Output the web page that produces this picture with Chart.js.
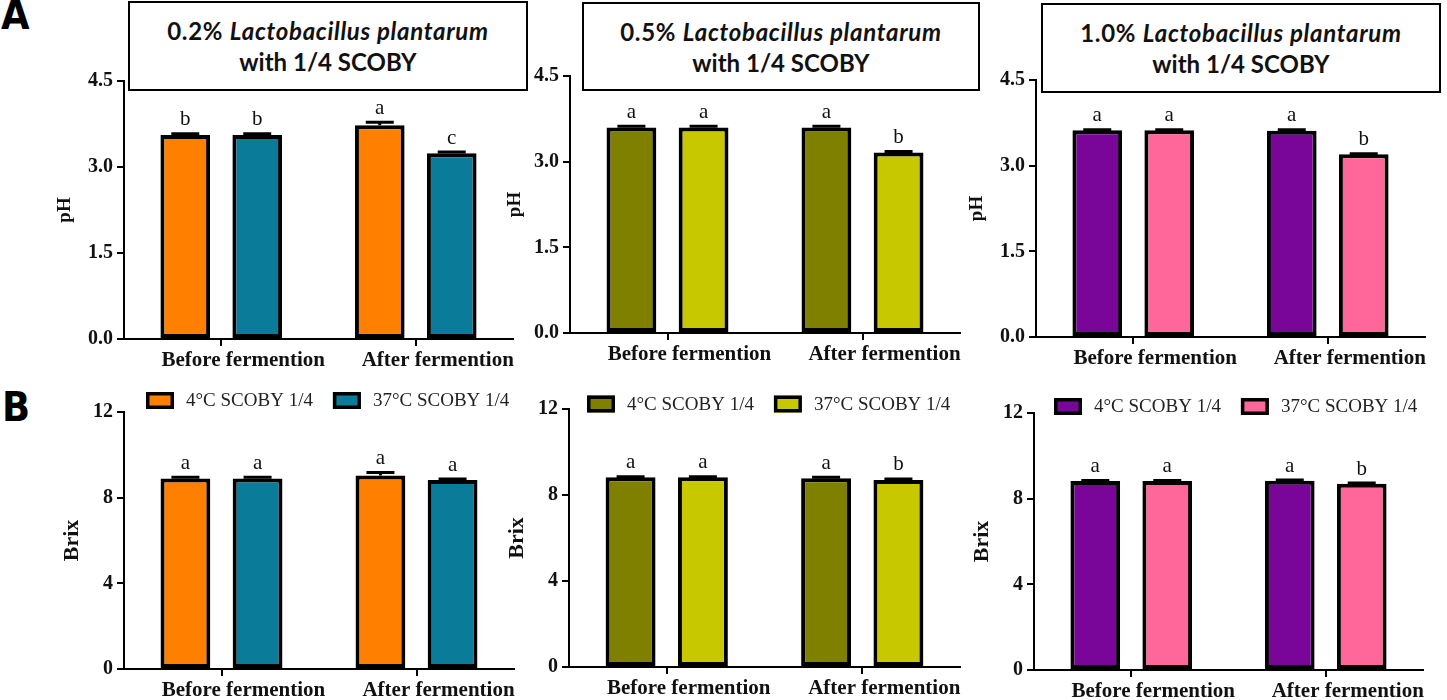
<!DOCTYPE html>
<html>
<head>
<meta charset="utf-8">
<script src="https://cdn.jsdelivr.net/npm/chart.js@4.4.1/dist/chart.umd.min.js"></script>
<style>
  html, body { margin: 0; padding: 0; background: #fff; }
  #page { position: relative; width: 1447px; height: 700px; overflow: hidden; background: #fff; }
  canvas { position: absolute; }
  .tbox { position: absolute; box-sizing: border-box; border: 2px solid #000; background: #fff;
          display: flex; flex-direction: column; justify-content: center; align-items: center;
          font-family: Lato, "Open Sans", sans-serif; font-weight: bold; font-size: 24px; line-height: 31px; color: #111; }
  .tbox .l1 { letter-spacing: 0.7px; }
  .plabel { position: absolute; font-family: "DejaVu Sans Condensed", "DejaVu Sans", sans-serif; font-stretch: condensed;
            font-weight: bold; font-size: 41px; line-height: 41px; color: #000; }
</style>
</head>
<body>
<div id="page">
  <div class="plabel" style="left:1px; top:-5px;">A</div>
  <div class="plabel" style="left:2px; top:387px;">B</div>
  <canvas id="cA1"></canvas>
  <canvas id="cA2"></canvas>
  <canvas id="cA3"></canvas>
  <canvas id="cB1"></canvas>
  <canvas id="cB2"></canvas>
  <canvas id="cB3"></canvas>
  <div class="tbox" style="left:128px; top:1px; width:400px; height:90px;"><div class="l1">0.2% <i>Lactobacillus plantarum</i></div><div>with 1/4 SCOBY</div></div>
  <div class="tbox" style="left:582px; top:2px; width:398px; height:89px;"><div class="l1">0.5% <i>Lactobacillus plantarum</i></div><div>with 1/4 SCOBY</div></div>
  <div class="tbox" style="left:1041px; top:3px; width:400px; height:90px;"><div class="l1">1.0% <i>Lactobacillus plantarum</i></div><div>with 1/4 SCOBY</div></div>
</div>
<script>
// ---------------- DATA ----------------
const categories = ['Before fermention', 'After fermention'];
const seriesLabels = ['4°C SCOBY 1/4', '37°C SCOBY 1/4'];

const pHTickLabels = ['0.0', '1.5', '3.0', '4.5'];
const brixTickLabels = ['0', '4', '8', '12'];

// pH (mean, sd, significance letters)
const pH_02_4C = [3.56, 3.73];
const pH_02_4C_sd = [0.02, 0.05];
const pH_02_4C_sig = ['b', 'a'];
const pH_02_37C = [3.56, 3.24];
const pH_02_37C_sd = [0.02, 0.02];
const pH_02_37C_sig = ['b', 'c'];

const pH_05_4C = [3.60, 3.60];
const pH_05_4C_sd = [0.02, 0.02];
const pH_05_4C_sig = ['a', 'a'];
const pH_05_37C = [3.60, 3.16];
const pH_05_37C_sd = [0.02, 0.02];
const pH_05_37C_sig = ['a', 'b'];

const pH_10_4C = [3.62, 3.61];
const pH_10_4C_sd = [0.01, 0.02];
const pH_10_4C_sig = ['a', 'a'];
const pH_10_37C = [3.62, 3.20];
const pH_10_37C_sd = [0.01, 0.01];
const pH_10_37C_sig = ['a', 'b'];

// Brix
const brix_02_4C = [8.90, 9.03];
const brix_02_4C_sd = [0.05, 0.15];
const brix_02_4C_sig = ['a', 'a'];
const brix_02_37C = [8.90, 8.82];
const brix_02_37C_sd = [0.05, 0.05];
const brix_02_37C_sig = ['a', 'a'];

const brix_05_4C = [8.82, 8.78];
const brix_05_4C_sd = [0.03, 0.05];
const brix_05_4C_sig = ['a', 'a'];
const brix_05_37C = [8.82, 8.70];
const brix_05_37C_sd = [0.03, 0.05];
const brix_05_37C_sig = ['a', 'b'];

const brix_10_4C = [8.82, 8.84];
const brix_10_4C_sd = [0.03, 0.03];
const brix_10_4C_sig = ['a', 'a'];
const brix_10_37C = [8.82, 8.70];
const brix_10_37C_sd = [0.03, 0.03];
const brix_10_37C_sig = ['a', 'b'];

// ---------------- STYLE / LAYOUT ----------------
const colors02 = ['#FF8000', '#0A7B99'];
const colors05 = ['#808000', '#C8C800'];
const colors10 = ['#7A0699', '#FF6699'];

const SERIF = '"Liberation Serif", "Times New Roman", serif';

const panels = [
  { id: 'cA1', left: 0,   top: 0,   w: 530, h: 372, area: { l: 124,  t: 81,  r: 513,  b: 339 }, titleX: 65,  yTitle: 'pH', max: 4.5, ticks: pHTickLabels,
    sets: [[pH_02_4C, pH_02_4C_sd, pH_02_4C_sig], [pH_02_37C, pH_02_37C_sd, pH_02_37C_sig]], colors: colors02 },
  { id: 'cA2', left: 480, top: 0,   w: 500, h: 372, area: { l: 570,  t: 76,  r: 960,  b: 333 }, titleX: 515, yTitle: 'pH', max: 4.5, ticks: pHTickLabels,
    sets: [[pH_05_4C, pH_05_4C_sd, pH_05_4C_sig], [pH_05_37C, pH_05_37C_sd, pH_05_37C_sig]], colors: colors05 },
  { id: 'cA3', left: 960, top: 0,   w: 487, h: 372, area: { l: 1036, t: 80,  r: 1425, b: 337 }, titleX: 977, yTitle: 'pH', max: 4.5, ticks: pHTickLabels,
    sets: [[pH_10_4C, pH_10_4C_sd, pH_10_4C_sig], [pH_10_37C, pH_10_37C_sd, pH_10_37C_sig]], colors: colors10 },
  { id: 'cB1', left: 0,   top: 372, w: 530, h: 328, area: { l: 124,  t: 412, r: 514,  b: 669 }, titleX: 72,  yTitle: 'Brix', max: 12, ticks: brixTickLabels,
    sets: [[brix_02_4C, brix_02_4C_sd, brix_02_4C_sig], [brix_02_37C, brix_02_37C_sd, brix_02_37C_sig]], colors: colors02,
    legend: { x: 146, y: 400.5 } },
  { id: 'cB2', left: 480, top: 372, w: 500, h: 328, area: { l: 569,  t: 409, r: 960,  b: 667 }, titleX: 517, yTitle: 'Brix', max: 12, ticks: brixTickLabels,
    sets: [[brix_05_4C, brix_05_4C_sd, brix_05_4C_sig], [brix_05_37C, brix_05_37C_sd, brix_05_37C_sig]], colors: colors05,
    legend: { x: 587, y: 404 } },
  { id: 'cB3', left: 960, top: 372, w: 487, h: 328, area: { l: 1034, t: 413, r: 1423, b: 670 }, titleX: 982, yTitle: 'Brix', max: 12, ticks: brixTickLabels,
    sets: [[brix_10_4C, brix_10_4C_sd, brix_10_4C_sig], [brix_10_37C, brix_10_37C_sd, brix_10_37C_sig]], colors: colors10,
    legend: { x: 1054, y: 406.5 } }
];

// Error bars, significance letters and legend
const annotPlugin = {
  id: 'annot',
  afterDatasetsDraw(chart, args, opts) {
    const ctx = chart.ctx;
    const yScale = chart.scales.y;
    chart.data.datasets.forEach((ds, di) => {
      const meta = chart.getDatasetMeta(di);
      meta.data.forEach((bar, i) => {
        const v = ds.data[i];
        const sd = ds.sd[i];
        const yTop = yScale.getPixelForValue(v + sd);
        const x = bar.x;
        ctx.save();
        ctx.strokeStyle = '#000';
        ctx.lineWidth = 3;
        ctx.beginPath();
        ctx.moveTo(x, bar.y);
        ctx.lineTo(x, yTop);
        ctx.moveTo(x - 14, yTop);
        ctx.lineTo(x + 14, yTop);
        ctx.stroke();
        ctx.fillStyle = '#111';
        ctx.font = '21px ' + SERIF;
        ctx.textAlign = 'center';
        ctx.textBaseline = 'alphabetic';
        ctx.fillText(ds.sig[i], x, yTop - 8.5);
        ctx.restore();
      });
    });
  },
  afterDraw(chart, args, opts) {
    const lg = opts.legend;
    if (!lg) return;
    const ctx = chart.ctx;
    ctx.save();
    ctx.font = '19px ' + SERIF;
    ctx.textBaseline = 'middle';
    ctx.textAlign = 'left';
    let x = lg.x - opts.offX;
    const y = lg.y - opts.offY;
    chart.data.datasets.forEach((ds) => {
      const bw = 28, bh = 17;
      ctx.fillStyle = ds.backgroundColor;
      ctx.fillRect(x, y - bh / 2, bw, bh);
      ctx.strokeStyle = '#000';
      ctx.lineWidth = 3.5;
      ctx.strokeRect(x + 1.75, y - bh / 2 + 1.75, bw - 3.5, bh - 3.5);
      ctx.fillStyle = '#222';
      const tx = x + bw + 12;
      ctx.fillText(ds.label, tx, y + 1);
      x = tx + ctx.measureText(ds.label).width + 20;
    });
    ctx.restore();
  }
};

panels.forEach((P) => {
  const cv = document.getElementById(P.id);
  cv.style.left = P.left + 'px';
  cv.style.top = P.top + 'px';
  cv.style.width = P.w + 'px';
  cv.style.height = P.h + 'px';
  cv.width = P.w;
  cv.height = P.h;

  const datasets = P.sets.map((s, k) => ({
    label: seriesLabels[k],
    data: s[0],
    sd: s[1],
    sig: s[2],
    backgroundColor: P.colors[k],
    borderColor: '#000',
    borderWidth: 4,
    borderSkipped: false,
    categoryPercentage: 0.74,
    barPercentage: 0.69
  }));

  const yTickVals = P.ticks.map(Number);
  const tSize = P.yTitle === 'pH' ? 19 : 22;

  new Chart(cv, {
    type: 'bar',
    data: { labels: categories, datasets },
    plugins: [annotPlugin],
    options: {
      responsive: false,
      animation: false,
      devicePixelRatio: 1,
      layout: { padding: { left: 0, top: P.area.t - P.top, right: P.left + P.w - P.area.r, bottom: 0 } },
      plugins: {
        legend: { display: false },
        tooltip: { enabled: false },
        annot: { legend: P.legend || null, offX: P.left, offY: P.top }
      },
      scales: {
        x: {
          type: 'category',
          offset: true,
          grid: { display: true, drawOnChartArea: false, drawTicks: true, tickLength: 7, color: '#000', lineWidth: 2, offset: false },
          border: { display: true, color: '#000', width: 2 },
          ticks: { color: '#111', font: { family: SERIF, size: 21, weight: 'bold' }, padding: 2, labelOffset: 22, maxRotation: 0, autoSkip: false },
          afterFit(scale) { scale.height = P.top + P.h - P.area.b; }
        },
        y: {
          min: 0,
          max: P.max,
          grid: { display: true, drawOnChartArea: false, drawTicks: true, tickLength: 7, color: '#000', lineWidth: 2 },
          border: { display: true, color: '#000', width: 2 },
          afterBuildTicks(scale) { scale.ticks = yTickVals.map(v => ({ value: v })); },
          ticks: {
            color: '#111',
            font: { family: SERIF, size: 20, weight: 'bold' },
            padding: 4,
            callback: (v) => P.ticks[yTickVals.indexOf(v)]
          },
          title: {
            display: true,
            text: P.yTitle,
            color: '#111',
            font: { family: SERIF, size: tSize, weight: 'bold' },
            padding: { top: P.titleX - P.left - tSize * 0.6, bottom: 0 }
          },
          afterFit(scale) { scale.width = P.area.l - P.left; }
        }
      }
    }
  });
});
</script>
</body>
</html>
